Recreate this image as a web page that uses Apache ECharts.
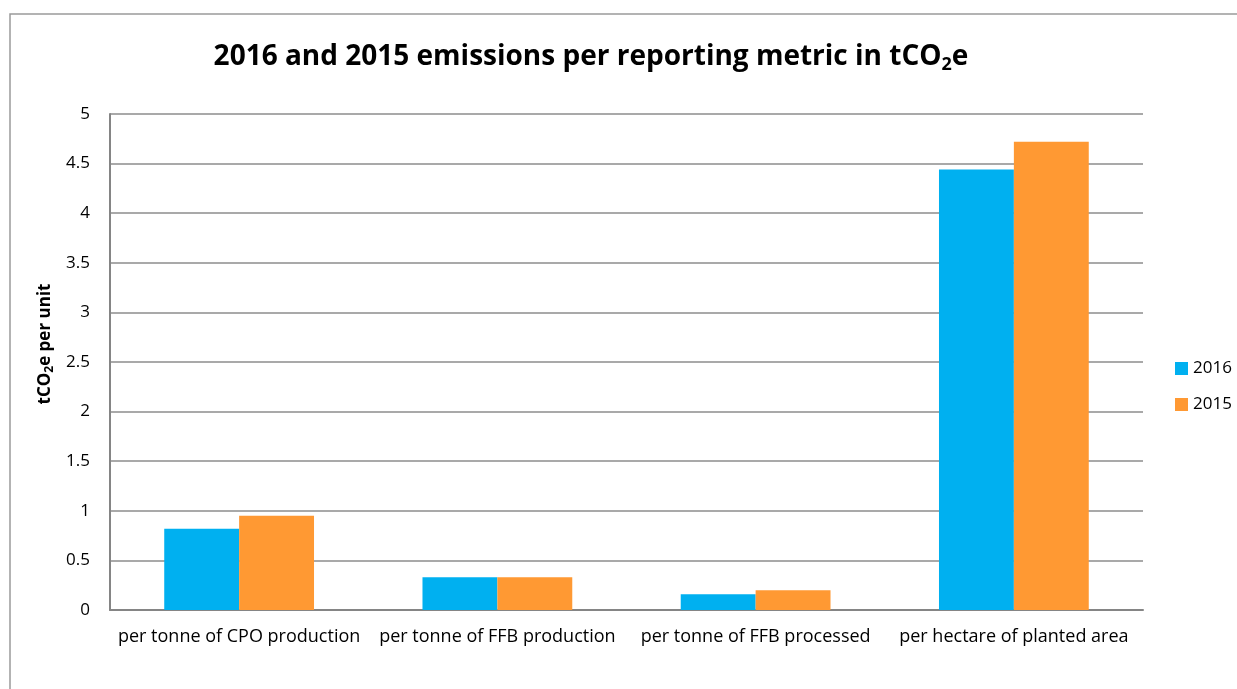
<!DOCTYPE html>
<html>
<head>
<meta charset="utf-8">
<script src="https://cdn.jsdelivr.net/npm/echarts@6/dist/echarts.min.js"></script>
<style>
  html, body { margin: 0; padding: 0; background: #fff; }
  #chart { width: 1237px; height: 689px; }
</style>
</head>
<body>
<div id="chart"></div>
<script>
// Emissions intensity per reporting metric (tCO2e per unit)
const categories = [
  'per tonne of CPO production',
  'per tonne of FFB production',
  'per tonne of FFB processed',
  'per hectare of planted area'
];
const values2016 = [0.82, 0.33, 0.16, 4.44];
const values2015 = [0.95, 0.33, 0.20, 4.72];
const seriesNames = ['2016', '2015'];

const font = '"Open Sans", "Liberation Sans", sans-serif';
const chart = echarts.init(document.getElementById('chart'));

chart.setOption({
  animation: false,
  backgroundColor: '#fff',
  graphic: [{
    type: 'rect',
    shape: { x: 10, y: 14, width: 1300, height: 700 },
    style: { fill: 'none', stroke: '#9a9a9a', lineWidth: 1.5 },
    silent: true
  }],
  title: {
    text: '{t|2016 and 2015 emissions per reporting metric in tCO}{s|2}{t|e}',
    left: 586,
    textAlign: 'center',
    top: 36,
    textStyle: {
      rich: {
        t: { fontFamily: font, fontSize: 28, fontWeight: 'bold', color: '#000' },
        s: { fontFamily: font, fontSize: 18, fontWeight: 'bold', color: '#000', padding: [15, 0, 0, 0] }
      }
    }
  },
  legend: {
    orient: 'vertical',
    left: 1170,
    top: 355,
    itemWidth: 13,
    itemHeight: 13,
    itemGap: 19,
    icon: 'rect',
    textStyle: { fontFamily: font, fontSize: 17, color: '#000' },
    data: seriesNames
  },
  grid: { left: 110, right: 94, top: 114, bottom: 79 },
  xAxis: {
    type: 'category',
    data: categories,
    axisLine: { lineStyle: { color: '#858585', width: 2 } },
    axisTick: { show: false },
    axisLabel: { fontFamily: font, fontSize: 18, color: '#000', margin: 18, interval: 0 }
  },
  yAxis: {
    type: 'value',
    min: 0,
    max: 5,
    interval: 0.5,
    name: '{t|tCO}{s|2}{t|e per unit}',
    nameLocation: 'middle',
    nameGap: 54,
    nameRotate: 90,
    nameTextStyle: {
      padding: [0, 0, 0, 36],
      rich: {
        t: { fontFamily: font, fontSize: 17, fontWeight: 'bold', color: '#000' },
        s: { fontFamily: font, fontSize: 12, fontWeight: 'bold', color: '#000', padding: [9, 0, 0, 0] }
      }
    },
    axisLine: { show: true, lineStyle: { color: '#858585', width: 2 } },
    axisTick: { show: false },
    axisLabel: { fontFamily: font, fontSize: 17, color: '#000', margin: 20 },
    splitLine: { lineStyle: { color: '#8c8c8c', width: 1.5 } }
  },
  series: [
    {
      name: seriesNames[0],
      type: 'bar',
      data: values2016,
      itemStyle: { color: '#00b0f0' },
      barGap: '0%',
      barCategoryGap: '42%'
    },
    {
      name: seriesNames[1],
      type: 'bar',
      data: values2015,
      itemStyle: { color: '#ff9933' },
      barGap: '0%',
      barCategoryGap: '42%'
    }
  ]
});
</script>
</body>
</html>
